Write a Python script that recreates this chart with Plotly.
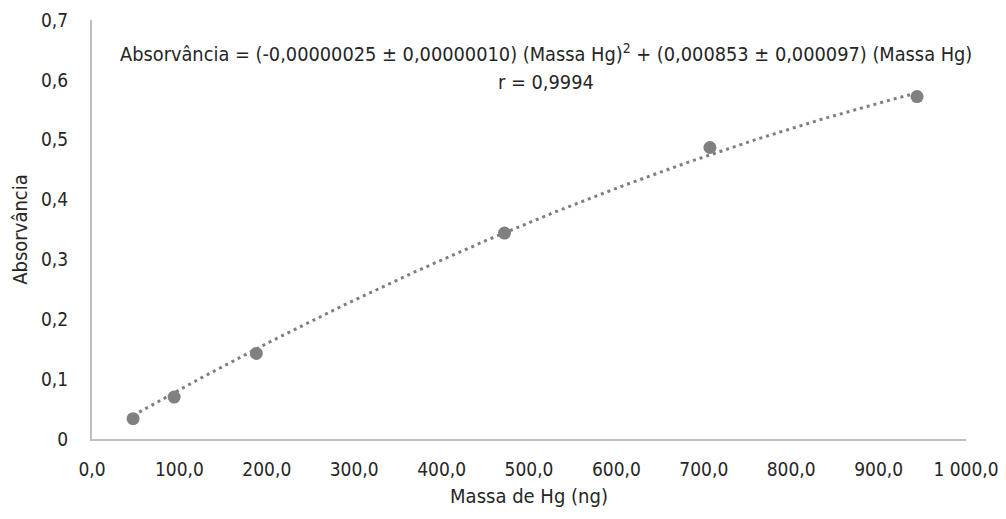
import numpy as np
import plotly.graph_objects as go

massa_hg = [47, 94, 188, 472, 707, 944]
absorvancia = [0.034, 0.070, 0.143, 0.344, 0.487, 0.572]

x_ticks = [0, 100, 200, 300, 400, 500, 600, 700, 800, 900, 1000]
x_tick_labels = ["0,0", "100,0", "200,0", "300,0", "400,0", "500,0", "600,0", "700,0", "800,0", "900,0", "1 000,0"]
y_ticks = [0, 0.1, 0.2, 0.3, 0.4, 0.5, 0.6, 0.7]
y_tick_labels = ["0", "0,1", "0,2", "0,3", "0,4", "0,5", "0,6", "0,7"]

eq_line1 = ("Absorvância = (-0,00000025 ± 0,00000010) (Massa Hg)<sup>2</sup> + "
            "(0,000853 ± 0,000097) (Massa Hg)")
eq_line2 = "r = 0,9994"

# quadratic trendline through origin (least squares)
xa = np.array(massa_hg, dtype=float)
ya = np.array(absorvancia, dtype=float)
A = np.vstack([xa**2, xa]).T
coef, *_ = np.linalg.lstsq(A, ya, rcond=None)
xf = np.linspace(xa.min(), xa.max(), 200)
yf = coef[0] * xf**2 + coef[1] * xf

FONT = "DejaVu Sans Condensed, Liberation Sans, sans-serif"
TXT = "#262626"

fig = go.Figure()
fig.add_trace(go.Scatter(x=xf, y=yf, mode="lines",
                         line=dict(color="#7f7f7f", width=3, dash="3px,4px"),
                         hoverinfo="skip", showlegend=False))
fig.add_trace(go.Scatter(x=massa_hg, y=absorvancia, mode="markers",
                         marker=dict(color="#808080", size=13),
                         showlegend=False))

for txt, yy in [(eq_line1, 0.921), (eq_line2, 0.850)]:
    fig.add_annotation(x=0.520, y=yy, xref="paper", yref="paper",
                       text=txt, showarrow=False, align="center",
                       xanchor="center", yanchor="middle",
                       font=dict(family=FONT, size=19.8, color=TXT))

fig.update_layout(
    template="none",
    width=998, height=511,
    margin=dict(l=84, r=40, t=12, b=80),
    paper_bgcolor="white", plot_bgcolor="white",
    font=dict(family=FONT, size=19, color=TXT),
    xaxis=dict(range=[0, 1000], tickvals=x_ticks, ticktext=x_tick_labels,
               showgrid=False, zeroline=False, showline=True, automargin=False,
               linecolor="#bfbfbf", linewidth=2, ticks="",
               tickfont=dict(size=19), ticklabelstandoff=12,
               title=dict(text="Massa de Hg (ng)", font=dict(size=20), standoff=10)),
    yaxis=dict(range=[0, 0.7], tickvals=y_ticks, ticktext=y_tick_labels,
               showgrid=False, zeroline=False, showline=True, automargin=False,
               linecolor="#bfbfbf", linewidth=2, ticks="",
               tickfont=dict(size=19), ticklabelstandoff=18,
               title=dict(text="Absorvância", font=dict(size=20), standoff=12)),
)

fig.write_html("out.html")
